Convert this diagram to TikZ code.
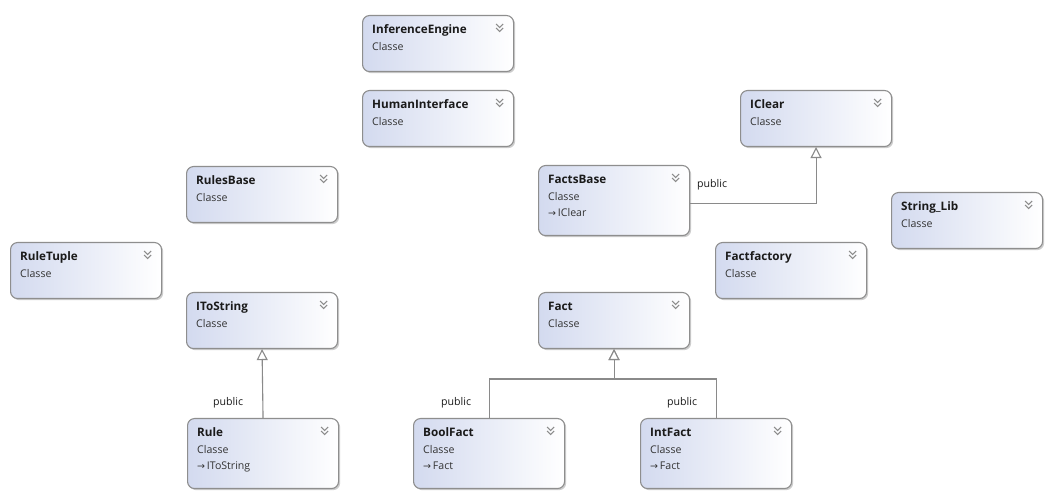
\documentclass[tikz,border=0pt]{standalone}
\usepackage{fontspec}
\setmainfont{Open Sans}
\newfontfamily\symfont{DejaVu Sans}
\usetikzlibrary{arrows.meta,shadows}
\definecolor{umlblue}{HTML}{D3DAEF}
\definecolor{umlborder}{HTML}{8E8E8E}
\definecolor{umlline}{HTML}{8A8A8A}
\definecolor{umltext}{HTML}{1A1A1A}
\definecolor{umlsub}{HTML}{333333}
\definecolor{chevcol}{HTML}{8C8C8C}
\tikzset{
  umlbox/.style={draw=umlborder, line width=1.1pt, rounded corners=7pt,
    left color=umlblue, right color=white, minimum width=151pt,
    inner sep=0pt, anchor=north west,
    drop shadow={shadow xshift=1.6pt, shadow yshift=-1.6pt, opacity=0.28, fill=black!70}},
  titletext/.style={font=\fontsize{11.7}{14}\selectfont\bfseries, text=umltext, inner sep=0pt, anchor=base west},
  subtext/.style={font=\fontsize{10.6}{13}\selectfont, text=umlsub, inner sep=0pt, anchor=base west},
  chev/.style={draw=chevcol, line width=1.2pt},
  inh/.style={draw=umlline, line width=1.1pt, -{Triangle[open, length=11pt, width=11pt, fill=white]}},
  pub/.style={font=\fontsize{10.6}{13}\selectfont, text=umltext, inner sep=0pt, anchor=base west},
}
\newcommand\umlclass[5]{%
  \node[umlbox, minimum height=#4pt] (#1) at (#2,#3) {};
  \node[titletext] (#1-t) at ([shift={(10pt,-19pt)}]#1.north west) {#5};
  \node[subtext] (#1-c) at ([shift={(10pt,-36pt)}]#1.north west) {Classe};
  \draw[chev] ([shift={(-18pt,-9pt)}]#1.north east) -- ++(3.5pt,-3.5pt) -- ++(3.5pt,3.5pt);
  \draw[chev] ([shift={(-18pt,-13pt)}]#1.north east) -- ++(3.5pt,-3.5pt) -- ++(3.5pt,3.5pt);
}
\newcommand\umlinh[2]{%
  \node[subtext] (#1-i) at ([shift={(10pt,-52pt)}]#1.north west) {{\symfont\fontsize{9.5}{10}\selectfont →}\,#2};
}
\begin{document}
\begin{tikzpicture}[x=1pt,y=-1pt]
\fill[white] (0,0) rectangle (1053,502);
\useasboundingbox (0,0) rectangle (1053,502);

\umlclass{inference}{362}{15}{56}{InferenceEngine}
\umlclass{human}{362}{90}{56}{HumanInterface}
\umlclass{iclear}{740}{90}{56}{IClear}
\umlclass{rulesbase}{186}{166}{56}{RulesBase}
\umlclass{factsbase}{538}{165}{70}{FactsBase}
\umlinh{factsbase}{IClear}
\umlclass{stringlib}{891}{192}{56}{String\_Lib}
\umlclass{ruletuple}{10}{242}{56}{RuleTuple}
\umlclass{factfactory}{715}{242}{56}{Factfactory}
\umlclass{itostring}{186}{292}{56}{IToString}
\umlclass{fact}{538}{292}{56}{Fact}
\umlclass{rule}{187}{418}{70}{Rule}
\umlinh{rule}{IToString}
\umlclass{boolfact}{413}{418}{70}{BoolFact}
\umlinh{boolfact}{Fact}
\umlclass{intfact}{640}{418}{70}{IntFact}
\umlinh{intfact}{Fact}

\coordinate (bus) at (0,379);
\draw[inh] (boolfact.north) |- (bus -| fact.south) -- (fact.south);
\draw[inh] (intfact.north) |- (bus -| fact.south) -- (fact.south);
\draw[inh] (rule.north) -- (itostring.south);
\draw[inh] ([yshift=-3pt]factsbase.east) -| (iclear.south);

\node[pub] (pubfb) at (697,188) {public};
\node[pub] (pubrule) at (213,406) {public};
\node[pub] (pubbool) at (441,406) {public};
\node[pub] (pubint) at (667,406) {public};
\end{tikzpicture}
\end{document}
